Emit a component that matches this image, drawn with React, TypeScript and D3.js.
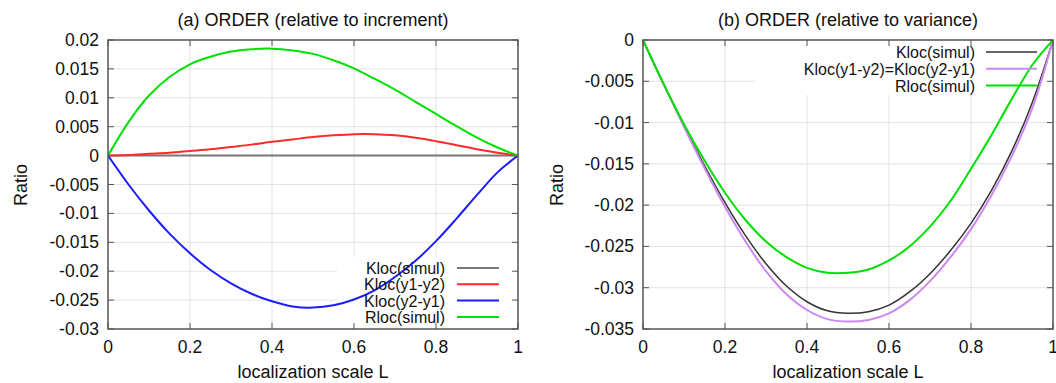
import React from "react";
import * as d3 from "d3";

// localization scale L (sampled every 0.05)
const scaleL = [0, 0.05, 0.1, 0.15, 0.2, 0.25, 0.3, 0.35, 0.4, 0.45, 0.5, 0.55, 0.6, 0.65, 0.7, 0.75, 0.8, 0.85, 0.9, 0.95, 1];

// (a) relative to increment
const incKlocSimul = [0, 0, 0, 0, 0, 0, 0, 0, 0, 0, 0, 0, 0, 0, 0, 0, 0, 0, 0, 0, 0];
const incKlocY1Y2 = [0, 0.0001, 0.0003, 0.0005, 0.0008, 0.0011, 0.0015, 0.0019, 0.0024, 0.0028, 0.0032, 0.0035, 0.0037, 0.0037, 0.0035, 0.0031, 0.0025, 0.0018, 0.0011, 0.0005, 0];
const incKlocY2Y1 = [0, -0.005, -0.0095, -0.0135, -0.0169, -0.0198, -0.0221, -0.0239, -0.0252, -0.0261, -0.0263, -0.0259, -0.0249, -0.0233, -0.021, -0.0182, -0.0148, -0.0109, -0.0068, -0.0029, 0];
const incRlocSimul = [0, 0.0058, 0.0104, 0.0136, 0.0158, 0.0171, 0.018, 0.0184, 0.0185, 0.0182, 0.0176, 0.0165, 0.0151, 0.0133, 0.0114, 0.0093, 0.0072, 0.0051, 0.0031, 0.0014, 0];

// (b) relative to variance
const varKlocSimul = [0, -0.0053, -0.0104, -0.0152, -0.0197, -0.0237, -0.0271, -0.0298, -0.0317, -0.0328, -0.0331, -0.0329, -0.0321, -0.0305, -0.0283, -0.0255, -0.0222, -0.0182, -0.0134, -0.0075, 0];
const varKlocDiff = [0, -0.0053, -0.0105, -0.0155, -0.0202, -0.0244, -0.028, -0.0308, -0.0327, -0.0338, -0.0341, -0.0339, -0.0331, -0.0315, -0.0292, -0.0263, -0.0229, -0.0188, -0.014, -0.0082, 0];
const varRlocSimul = [0, -0.0053, -0.0102, -0.0146, -0.0185, -0.0218, -0.0244, -0.0263, -0.0276, -0.0282, -0.0282, -0.0278, -0.0267, -0.025, -0.0226, -0.0195, -0.0156, -0.0115, -0.0071, -0.003, 0];

const xTicks = [0, 0.2, 0.4, 0.6, 0.8, 1];
const incTicks = [0.02, 0.015, 0.01, 0.005, 0, -0.005, -0.01, -0.015, -0.02, -0.025, -0.03];
const varTicks = [0, -0.005, -0.01, -0.015, -0.02, -0.025, -0.03, -0.035];

const FONT = "'Liberation Sans', Arial, Helvetica, sans-serif";
const fmt = (v: number) => String(+v.toFixed(4));

type Series = { label: string; values: number[]; color: string; width: number };

function Panel(props: any) {
  const { id, left, right, top, bottom, title, yTicks, series, legend, yLabelX } = props;
  const x = d3.scaleLinear().domain([0, 1]).range([left, right]);
  const y = d3.scaleLinear().domain(d3.extent(yTicks) as [number, number]).range([bottom, top]);
  const line = d3
    .line<number>()
    .x((d, i) => x(scaleL[i]))
    .y(d => y(d))
    .curve(d3.curveCatmullRom.alpha(0.5));
  const tick = 6;
  const border = "#555";
  const cx = (left + right) / 2;

  return (
    <g>
      <defs>
        <clipPath id={id}>
          <rect x={left} y={top} width={right - left} height={bottom - top} />
        </clipPath>
      </defs>
      {/* grid */}
      {xTicks.slice(1, -1).map(t => (
        <line key={"gx" + t} x1={x(t)} x2={x(t)} y1={top} y2={bottom} stroke="#e2e2e2" strokeWidth={1} />
      ))}
      {yTicks.slice(1, -1).map((t: number) => (
        <line key={"gy" + t} x1={left} x2={right} y1={y(t)} y2={y(t)} stroke="#e2e2e2" strokeWidth={1} />
      ))}
      {/* legend background */}
      <rect x={legend.box[0]} y={legend.box[1]} width={legend.box[2]} height={legend.box[3]} fill="#fff" />
      {/* ticks */}
      {xTicks.map(t => (
        <g key={"tx" + t}>
          <line x1={x(t)} x2={x(t)} y1={bottom} y2={bottom - tick} stroke={border} strokeWidth={1} />
          <line x1={x(t)} x2={x(t)} y1={top} y2={top + tick} stroke={border} strokeWidth={1} />
          <text x={x(t)} y={bottom + 24} textAnchor="middle" fontSize={17.5} fill="#111">
            {fmt(t)}
          </text>
        </g>
      ))}
      {yTicks.map((t: number) => (
        <g key={"ty" + t}>
          <line x1={left} x2={left + tick} y1={y(t)} y2={y(t)} stroke={border} strokeWidth={1} />
          <line x1={right} x2={right - tick} y1={y(t)} y2={y(t)} stroke={border} strokeWidth={1} />
          <text x={left - 9} y={y(t) + 6} textAnchor="end" fontSize={17.5} fill="#111">
            {fmt(t)}
          </text>
        </g>
      ))}
      {/* curves */}
      <g clipPath={`url(#${id})`}>
        {series.map((s: Series) => (
          <path key={s.label} d={line(s.values) || ""} fill="none" stroke={s.color} strokeWidth={s.width} />
        ))}
      </g>
      {/* legend */}
      {series.map((s: Series, i: number) => {
        const ly = legend.y0 + i * legend.dy;
        return (
          <g key={"lg" + s.label}>
            <text x={legend.textRight} y={ly + 6} textAnchor="end" fontSize={16} fill="#111">
              {s.label}
            </text>
            <line x1={legend.x1} x2={legend.x2} y1={ly} y2={ly} stroke={s.color} strokeWidth={s.width} />
          </g>
        );
      })}
      {/* border */}
      <rect x={left} y={top} width={right - left} height={bottom - top} fill="none" stroke={border} strokeWidth={1.5} />
      {/* labels */}
      <text x={cx} y={26} textAnchor="middle" fontSize={18} fill="#111">
        {title}
      </text>
      <text x={cx} y={378} textAnchor="middle" fontSize={18} fill="#111">
        localization scale L
      </text>
      <text
        transform={`translate(${yLabelX},185) rotate(-90)`}
        textAnchor="middle"
        fontSize={18}
        fill="#111"
      >
        Ratio
      </text>
    </g>
  );
}

export default function App() {
  const incSeries: Series[] = [
    { label: "Kloc(simul)", values: incKlocSimul, color: "#777777", width: 2 },
    { label: "Kloc(y1-y2)", values: incKlocY1Y2, color: "#ff2a2a", width: 2 },
    { label: "Kloc(y2-y1)", values: incKlocY2Y1, color: "#1c1cff", width: 2 },
    { label: "Rloc(simul)", values: incRlocSimul, color: "#00e000", width: 2 },
  ];
  const varSeries: Series[] = [
    { label: "Kloc(simul)", values: varKlocSimul, color: "#333333", width: 1.5 },
    { label: "Kloc(y1-y2)=Kloc(y2-y1)", values: varKlocDiff, color: "#cc88f0", width: 2 },
    { label: "Rloc(simul)", values: varRlocSimul, color: "#00e000", width: 2 },
  ];

  return (
    <div style={{ position: "absolute", left: 0, top: 0 }}>
      <svg width={1056} height={383} style={{ display: "block", fontFamily: FONT }}>
        <rect width={1056} height={383} fill="#fff" />
        <Panel
          id="clipA"
          left={108}
          right={518}
          top={40}
          bottom={329}
          title="(a) ORDER (relative to increment)"
          yTicks={incTicks}
          series={incSeries}
          yLabelX={27}
          legend={{ box: [337, 257, 178, 70], textRight: 445, x1: 457, x2: 499, y0: 268, dy: 16.3 }}
        />
        <Panel
          id="clipB"
          left={643}
          right={1053}
          top={40}
          bottom={329}
          title="(b) ORDER (relative to variance)"
          yTicks={varTicks}
          series={varSeries}
          yLabelX={563}
          legend={{ box: [755, 42, 295, 53], textRight: 975, x1: 986, x2: 1037, y0: 52, dy: 16.8 }}
        />
      </svg>
    </div>
  );
}
